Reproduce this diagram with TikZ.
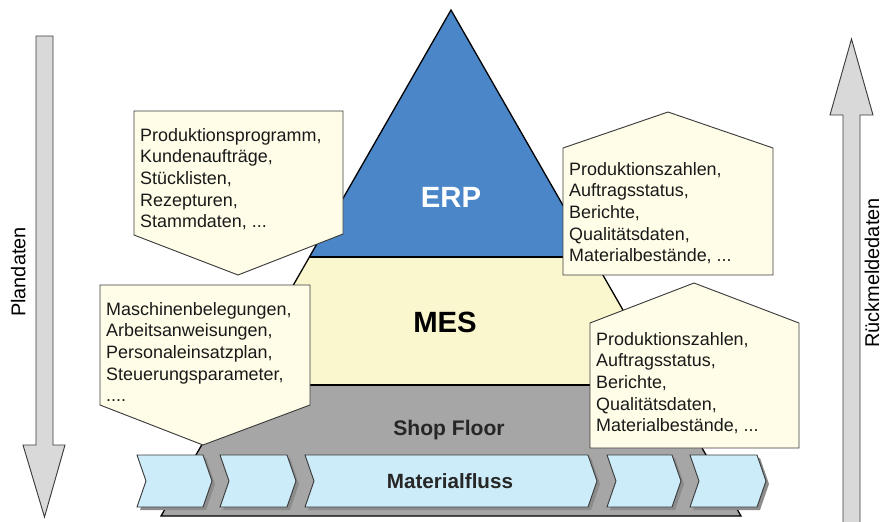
\documentclass[tikz,border=0pt]{standalone}
\usepackage{fontspec}
\setmainfont{Liberation Sans}
\definecolor{erpblue}{RGB}{74,134,200}
\definecolor{mesyellow}{RGB}{250,247,206}
\definecolor{floorgray}{RGB}{166,166,166}
\definecolor{creamfill}{RGB}{255,253,232}
\definecolor{chevblue}{RGB}{205,236,250}
\definecolor{arrowgray}{RGB}{217,217,217}
\definecolor{outl}{RGB}{60,60,60}
\begin{document}
\begin{tikzpicture}[x=0.03cm,y=-0.03cm, line join=miter,
  pyr/.style={draw=black, line width=1.1pt},
  callout/.style={draw=outl, fill=creamfill, line width=0.8pt},
  ctext/.style={anchor=north west, inner sep=0pt, align=left, font=\fontsize{15.3}{18.5}\selectfont, text=black!90},
  chevbox/.style={draw=outl, fill=chevblue, line width=0.8pt},
  chevshadow/.style={fill=black!45},
  bigarrow/.style={draw=outl, fill=arrowgray, line width=0.8pt},
  layerlabel/.style={anchor=base, inner sep=0pt, font=\bfseries\fontsize{25}{30}\selectfont},
  smalllabel/.style={anchor=base, inner sep=0pt, font=\bfseries\fontsize{18}{22}\selectfont},
  sidelabel/.style={anchor=base, inner sep=0pt, rotate=90, font=\fontsize{17}{20}\selectfont}
]
\useasboundingbox (0,0) rectangle (883,521);

% pyramid
\coordinate (apex) at (451,10);
\coordinate (el) at (308.7,257);
\coordinate (er) at (593.3,257);
\coordinate (ml) at (235,385);
\coordinate (mr) at (667,385);
\coordinate (bl) at (161,516);
\coordinate (br) at (741,516);
\fill[erpblue] (apex) -- (er) -- (el) -- cycle;
\fill[mesyellow] (el) -- (er) -- (mr) -- (ml) -- cycle;
\fill[floorgray] (ml) -- (mr) -- (br) -- (bl) -- cycle;
\draw[pyr] (apex) -- (br) -- (bl) -- cycle;
\draw[pyr] (el) -- (er);
\draw[pyr] (ml) -- (mr);

\node[layerlabel, text=white] (erp) at (451,207) {ERP};
\node[layerlabel] (mes) at (445,332) {MES};
\node[smalllabel, text=black!85] (shop) at (449,435) {Shop Floor};

% chevrons (material flow)
\foreach \L/\R in {137/203, 220/287, 305/588, 607/672, 690/757} {
  \begin{scope}[shift={(3,3)}]
    \fill[chevshadow] (\L,455) -- (\R,455) -- ({\R+9},481) -- (\R,507) -- (\L,507) -- ({\L+9},481) -- cycle;
  \end{scope}
  \draw[chevbox] (\L,455) -- (\R,455) -- ({\R+9},481) -- (\R,507) -- (\L,507) -- ({\L+9},481) -- cycle;
}
\node[smalllabel, font=\bfseries\fontsize{17.6}{21}\selectfont, text=black!85] (mat) at (450,488) {Materialfluss};

% callouts
\draw[callout] (134,111) -- (343,111) -- (343,234) -- (238,275) -- (134,235) -- cycle;
\node[ctext] (c1) at (140,128) {Produktionsprogramm,\\Kundenaufträge,\\Stücklisten,\\Rezepturen,\\Stammdaten, ...};

\draw[callout] (100,285) -- (310,285) -- (310,405) -- (203,445) -- (100,405) -- cycle;
\node[ctext] (c2) at (106,302) {Maschinenbelegungen,\\Arbeitsanweisungen,\\Personaleinsatzplan,\\Steuerungsparameter,\\....};

\draw[callout] (563,148) -- (668,112) -- (773,148) -- (773,275) -- (563,275) -- cycle;
\node[ctext] (c3) at (569,162) {Produktionszahlen,\\Auftragsstatus,\\Berichte,\\Qualitätsdaten,\\Materialbestände, ...};

\draw[callout] (590,323) -- (694,283) -- (799,323) -- (799,448) -- (590,448) -- cycle;
\node[ctext] (c4) at (596,332) {Produktionszahlen,\\Auftragsstatus,\\Berichte,\\Qualitätsdaten,\\Materialbestände, ...};

% side arrows
\filldraw[bigarrow] (36,36) -- (53,36) -- (53,445) -- (65,445) -- (44.5,517) -- (23,445) -- (36,445) -- cycle;
\node[sidelabel] (plan) at (25.5,272) {Plandaten};

\filldraw[bigarrow] (843,524) -- (843,115) -- (830,115) -- (851.5,39) -- (873,115) -- (860,115) -- (860,524);
\node[sidelabel] (rueck) at (879,273) {Rückmeldedaten};
\end{tikzpicture}
\end{document}
